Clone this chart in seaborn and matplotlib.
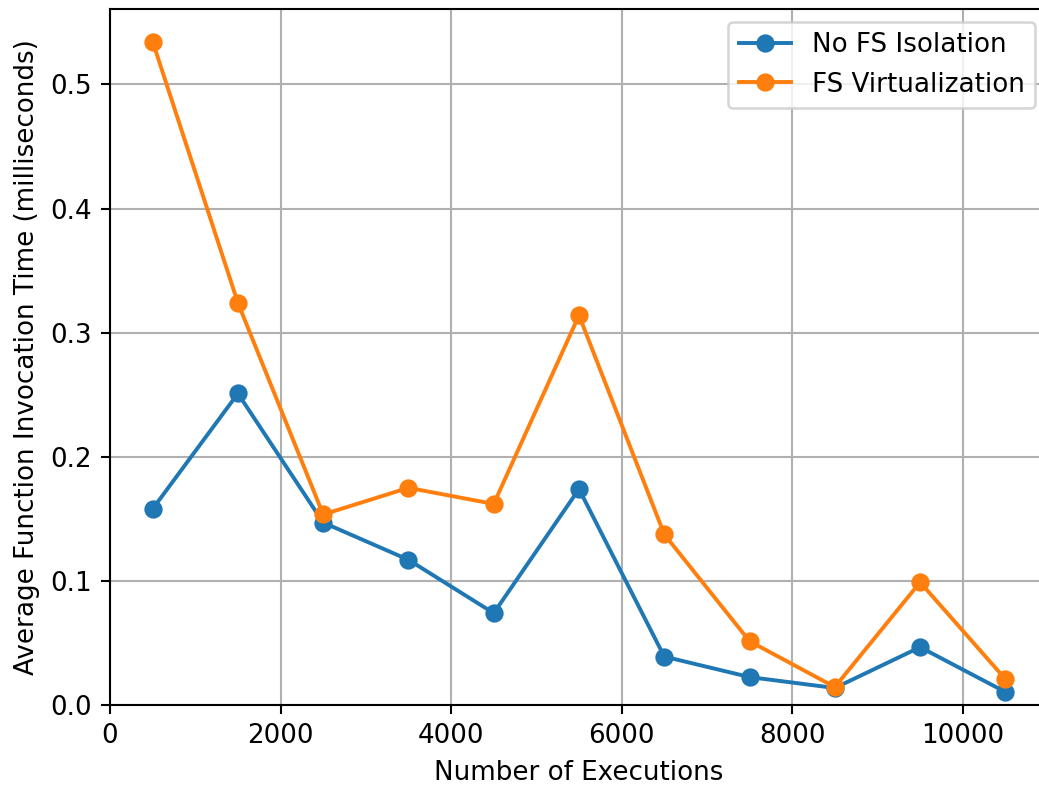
import matplotlib
matplotlib.use("Agg")
import matplotlib.pyplot as plt
import seaborn as sns
import pandas as pd

executions = [500, 1500, 2500, 3500, 4500, 5500, 6500, 7500, 8500, 9500, 10500]
no_fs_isolation = [0.158, 0.251, 0.147, 0.117, 0.074, 0.174, 0.039, 0.0225, 0.0137, 0.0466, 0.0105]
fs_virtualization = [0.5346, 0.324, 0.1535, 0.175, 0.162, 0.314, 0.1375, 0.0514, 0.0145, 0.0989, 0.0209]
series_names = ["No FS Isolation", "FS Virtualization"]
colors = ["#1f77b4", "#ff7f0e"]

DPI = 188
fig = plt.figure(figsize=(1039 / DPI, 785 / DPI), dpi=DPI)
ax = fig.add_axes([110 / 1039, 80 / 785, 938 / 1039, 696 / 785])

for name, vals, c in zip(series_names, [no_fs_isolation, fs_virtualization], colors):
    df = pd.DataFrame({"x": executions, "y": vals})
    sns.lineplot(data=df, x="x", y="y", ax=ax, color=c, marker="o", markersize=6,
                 markeredgecolor=c, markeredgewidth=1, linewidth=1.5, label=name)

ax.set_xlim(0, 11000)
ax.set_ylim(0, None)
ax.grid(True, color="#b0b0b0", linewidth=0.8)
ax.set_axisbelow(True)
ax.set_xlabel("Number of Executions")
ax.set_ylabel("Average Function Invocation Time (milliseconds)")
ax.legend(loc="upper right")
# the reference is cropped just inside the right spine
ax.spines["right"].set_visible(False)

fig.savefig("out.png", dpi=DPI)
